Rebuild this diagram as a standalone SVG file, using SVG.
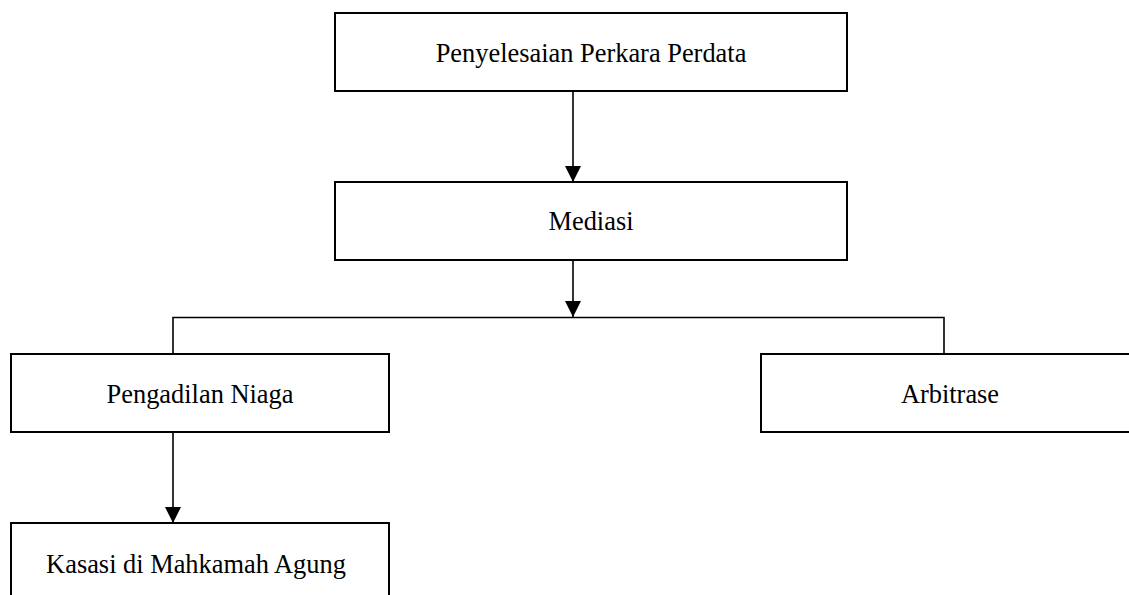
<svg xmlns="http://www.w3.org/2000/svg" width="1129" height="595" viewBox="0 0 1129 595">
<style>
.box{fill:#fff;stroke:#000;stroke-width:2}
.lbl{font-family:"Liberation Serif","Times New Roman",serif;font-size:26.4px;fill:#000;text-anchor:middle}
.con{fill:none;stroke:#000;stroke-width:1.6}
</style>
<defs>
<marker id="ah" markerUnits="userSpaceOnUse" markerWidth="16" markerHeight="16" viewBox="0 0 16 16" refX="16" refY="8" orient="auto">
<path d="M0,0 L16,8 L0,16 Z" fill="#000"/>
</marker>
</defs>
<rect width="1129" height="595" fill="#fff"/>
<g id="connectors">
<line class="con" x1="573" y1="91" x2="573" y2="182" marker-end="url(#ah)"/>
<line class="con" x1="573" y1="260" x2="573" y2="317" marker-end="url(#ah)"/>
<polyline class="con" points="173,354 173,317.5 944,317.5 944,354"/>
<line class="con" x1="173" y1="432" x2="173" y2="523" marker-end="url(#ah)"/>
</g>
<g id="node-penyelesaian">
<rect class="box" x="335" y="13" width="512" height="78"/>
<text class="lbl" x="591" y="62">Penyelesaian Perkara Perdata</text>
</g>
<g id="node-mediasi">
<rect class="box" x="335" y="182" width="512" height="78"/>
<text class="lbl" x="591" y="230">Mediasi</text>
</g>
<g id="node-pengadilan">
<rect class="box" x="11" y="354" width="378" height="78"/>
<text class="lbl" x="200" y="403">Pengadilan Niaga</text>
</g>
<g id="node-arbitrase">
<rect class="box" x="761" y="354" width="380" height="78"/>
<text class="lbl" x="950" y="403">Arbitrase</text>
</g>
<g id="node-kasasi">
<rect class="box" x="11" y="523" width="378" height="90"/>
<text class="lbl" x="196" y="573">Kasasi di Mahkamah Agung</text>
</g>
</svg>
